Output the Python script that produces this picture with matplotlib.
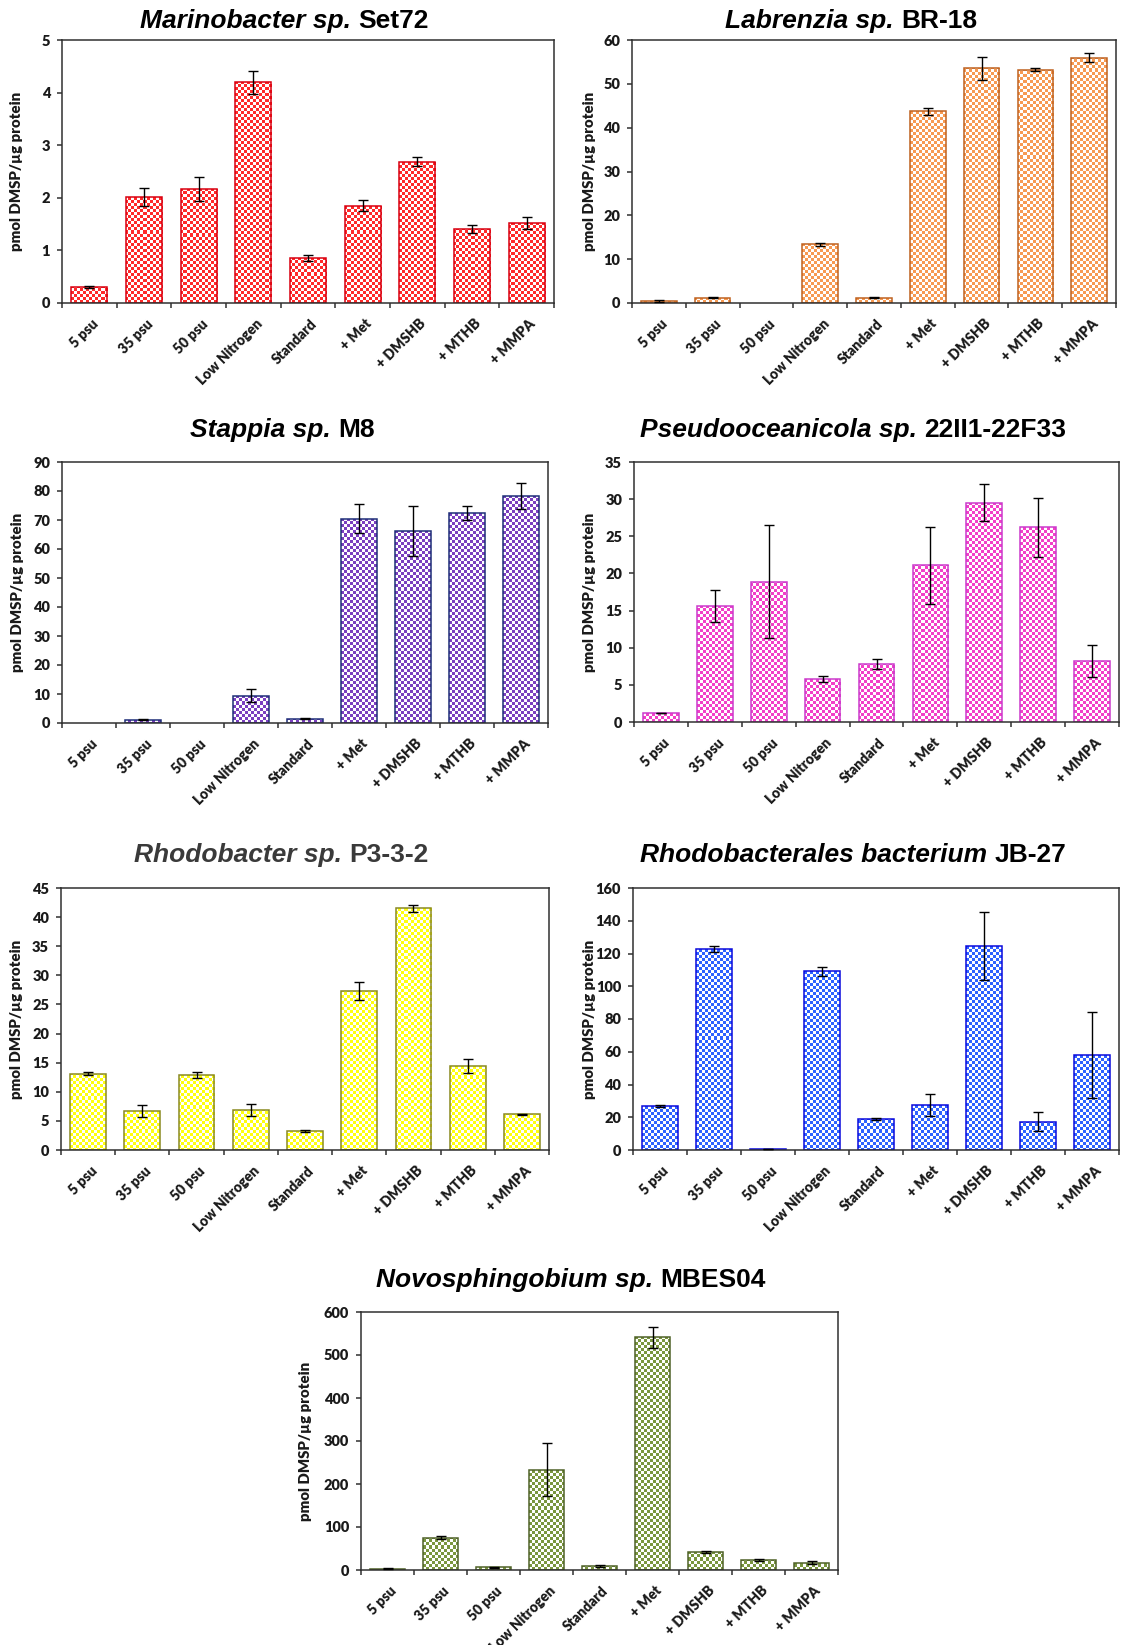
import numpy as np
import matplotlib
matplotlib.use('Agg')
import matplotlib.pyplot as plt
from matplotlib.colors import ListedColormap
from matplotlib.transforms import ScaledTranslation, blended_transform_factory

W, H = 1124, 1645
DPI = 100

conditions = ['5 psu', '35 psu', '50 psu', 'Low Nitrogen', 'Standard',
              '+ Met', '+ DMSHB', '+ MTHB', '+ MMPA']

# pmol DMSP / ug protein, mean and error per growth condition
marinobacter = [0.30, 2.02, 2.17, 4.20, 0.86, 1.85, 2.69, 1.41, 1.52]
marinobacter_err = [0.02, 0.17, 0.23, 0.22, 0.06, 0.10, 0.09, 0.07, 0.11]

labrenzia = [0.5, 1.2, 0.0, 13.4, 1.2, 43.7, 53.5, 53.2, 56.0]
labrenzia_err = [0.2, 0.15, 0.0, 0.4, 0.1, 0.9, 2.6, 0.3, 1.1]

stappia = [0.0, 1.2, 0.0, 9.4, 1.5, 70.5, 66.3, 72.3, 78.2]
stappia_err = [0.0, 0.1, 0.0, 2.3, 0.1, 5.0, 8.7, 2.4, 4.4]

pseudooceanicola = [1.2, 15.6, 18.9, 5.8, 7.8, 21.1, 29.5, 26.2, 8.2]
pseudooceanicola_err = [0.05, 2.2, 7.6, 0.35, 0.7, 5.2, 2.5, 4.0, 2.1]

rhodobacter = [13.1, 6.7, 12.9, 6.9, 3.2, 27.3, 41.5, 14.5, 6.1]
rhodobacter_err = [0.3, 1.0, 0.5, 1.0, 0.15, 1.6, 0.6, 1.2, 0.15]

rhodobacterales = [26.8, 122.8, 0.7, 109.2, 19.0, 27.7, 124.7, 17.3, 57.8]
rhodobacterales_err = [0.8, 1.6, 0.2, 2.7, 0.8, 6.8, 20.7, 5.9, 26.3]

novosphingobium = [3.0, 75.0, 6.0, 233.0, 10.0, 541.0, 42.0, 23.0, 17.0]
novosphingobium_err = [1.5, 3.0, 2.0, 62.0, 2.0, 25.0, 1.5, 3.0, 3.0]

# (italic part, upright part, values, errors, ymax, ystep, edge, fill,
#  axes box in px (left, top, right, bottom), title centre x, title baseline y,
#  ylabel offset, title colour)
panels = [
    ('Marinobacter sp.', 'Set72', marinobacter, marinobacter_err, 5, 1,
     '#D8000F', '#FF2A2A', (62, 40, 554, 303), 284, 28, 45, 'black'),
    ('Labrenzia sp.', 'BR-18', labrenzia, labrenzia_err, 60, 10,
     '#BF6220', '#F79A52', (632, 40, 1116, 303), 851, 28, 43, 'black'),
    ('Stappia sp.', 'M8', stappia, stappia_err, 90, 10,
     '#1E2E78', '#7B3FBF', (62, 462, 548, 723), 282, 437, 44, 'black'),
    ('Pseudooceanicola sp.', '22II1-22F33', pseudooceanicola, pseudooceanicola_err, 35, 5,
     '#CC3ACC', '#F23FC8', (634, 462, 1119, 722), 853, 437, 44, 'black'),
    ('Rhodobacter sp.', 'P3-3-2', rhodobacter, rhodobacter_err, 45, 5,
     '#8A8A20', '#FFFF10', (61, 888, 549, 1150), 281, 862, 44, '#3a3a3a'),
    ('Rhodobacterales bacterium', 'JB-27', rhodobacterales, rhodobacterales_err, 160, 20,
     '#0A0ADC', '#2E62FF', (633, 888, 1119, 1150), 853, 862, 44, 'black'),
    ('Novosphingobium sp.', 'MBES04', novosphingobium, novosphingobium_err, 600, 100,
     '#4F6228', '#7A963E', (361, 1312, 838, 1570), 571, 1287, 55, 'black'),
]

LABEL_FONT = ['Lato', 'DejaVu Sans']
TITLE_FONT = ['Liberation Sans', 'DejaVu Sans']
AXIS_COLOR = '#303030'
TEXT_COLOR = '#1a1a1a'

fig = plt.figure(figsize=(W / DPI, H / DPI), dpi=DPI)
renderer = fig.canvas.get_renderer()


def checker_fill(ax, bar, color, cell=3):
    # fine two-colour checkerboard clipped to the bar, cells snapped to pixels
    x0, y0 = bar.get_x(), bar.get_y()
    w, h = bar.get_width(), bar.get_height()
    if h <= 0:
        return
    (px0, py0), (px1, py1) = ax.transData.transform([(x0, y0), (x0 + w, y0 + h)])
    sx, sy = np.floor(px0), np.floor(py0)
    nx = int(np.ceil((px1 - sx) / cell))
    ny = int(np.ceil((py1 - sy) / cell))
    inv = ax.transData.inverted()
    (ex0, ey0), (ex1, ey1) = inv.transform([(sx, sy), (sx + nx * cell, sy + ny * cell)])
    board = np.indices((ny, nx)).sum(axis=0) % 2
    im = ax.imshow(board, cmap=ListedColormap(['white', color]),
                   extent=(ex0, ex1, ey0, ey1), origin='lower',
                   interpolation='nearest', aspect='auto', zorder=1.5)
    im.set_clip_path(bar)


def two_part_title(xc, ybase, italic, upright, color, size=19):
    y = 1 - ybase / H
    t1 = fig.text(0, y, italic, fontsize=size, fontweight='bold', style='italic',
                  family=TITLE_FONT, color=color, ha='left', va='baseline')
    t2 = fig.text(0, y, upright, fontsize=size, fontweight='bold',
                  family=TITLE_FONT, color=color, ha='left', va='baseline')
    w1 = t1.get_window_extent(renderer).width
    w2 = t2.get_window_extent(renderer).width
    gap = size * DPI / 72 * 0.28
    start = xc - (w1 + gap + w2) / 2
    t1.set_x(start / W)
    t2.set_x((start + w1 + gap) / W)


x = np.arange(len(conditions))

for (ital, upr, vals, errs, ymax, ystep, edge, fill, box, tx, ty, yoff, tcol) in panels:
    left, top, right, bottom = box
    ax = fig.add_axes([left / W, 1 - bottom / H, (right - left) / W, (bottom - top) / H])
    ax.set_xlim(-0.5, len(conditions) - 0.5)
    ax.set_ylim(0, ymax)

    vals = np.array(vals)
    errs = np.array(errs)
    bars = ax.bar(x, vals, width=0.66, facecolor='none', edgecolor=edge,
                  linewidth=1.1, zorder=2)
    for b in bars:
        if b.get_height() <= 0:
            b.set_visible(False)
        checker_fill(ax, b, fill)

    shown = vals > 0
    ax.errorbar(x[shown], vals[shown], yerr=errs[shown], fmt='none', ecolor='black',
                elinewidth=1.0, capsize=3.3, capthick=1.0, zorder=3)

    for s in ax.spines.values():
        s.set_color(AXIS_COLOR)
        s.set_linewidth(1.1)
    ticks = np.arange(0, ymax + ystep / 2, ystep)
    ax.set_yticks(ticks)
    ax.set_yticklabels([str(int(v)) for v in ticks], family=LABEL_FONT,
                       fontweight='heavy', fontsize=10.5, color=TEXT_COLOR)
    ax.set_xticks(np.arange(-0.5, len(conditions), 1))
    ax.set_xticklabels([])
    ax.tick_params(axis='both', direction='out', length=3.6, width=1.1, color=AXIS_COLOR)
    ax.tick_params(axis='y', pad=5)

    # rotated category names, their top end sitting under each category centre
    trans = blended_transform_factory(ax.transData, ax.transAxes) + \
        ScaledTranslation(1.5 / 72, -10 / 72, fig.dpi_scale_trans)
    for xi, name in zip(x, conditions):
        ax.text(xi, 0, name, transform=trans, rotation=45, rotation_mode='anchor',
                ha='right', va='top', family=LABEL_FONT, fontweight='heavy',
                fontsize=10, color=TEXT_COLOR)

    fig.text((left - yoff) / W, 1 - (top + bottom) / 2 / H, 'pmol DMSP/µg protein',
             rotation=90, ha='center', va='center', family=LABEL_FONT,
             fontweight='heavy', fontsize=10.8, color=TEXT_COLOR)

    two_part_title(tx, ty, ital, upr, tcol)

fig.savefig('out.png', dpi=DPI, facecolor='white')
